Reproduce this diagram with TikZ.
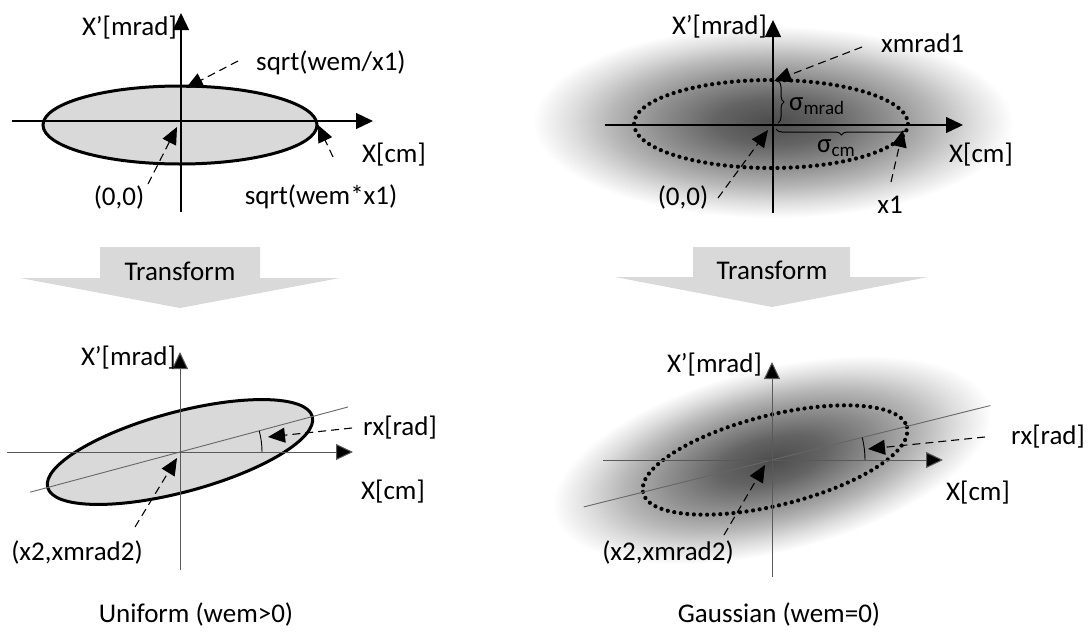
\documentclass[tikz,border=0pt]{standalone}
\usepackage{fontspec}
\setmainfont{Carlito}
\usetikzlibrary{calc,arrows.meta,decorations.pathreplacing}
\pgfdeclareradialshading{gauss}{\pgfpoint{0bp}{0bp}}{color(0bp)=(black!70); color(6bp)=(black!61); color(12bp)=(black!44); color(17bp)=(black!28); color(21bp)=(black!13); color(25bp)=(white); color(50bp)=(white)}
\tikzset{
  axis/.style={draw, line width=1.3pt, -{Triangle[length=17pt,width=16pt]}},
  faxis/.style={draw, black!65, line width=1pt, -{Triangle[length=17pt,width=16pt,fill=black]}},
  ptr/.style={draw, line width=1.1pt, dash pattern=on 8pt off 5pt, -{Triangle[length=17pt,width=15pt]}},
  dots/.style={draw, line width=4.2pt, line cap=round, dash pattern=on 0pt off 6.6pt},
  lbl/.style={inner sep=0pt, font=\fontsize{27}{32}\selectfont},
  sig/.style={draw, decorate, decoration={brace, amplitude=6pt}, line width=1pt}
}
\begin{document}
\begin{tikzpicture}[x=1pt, y=-1pt]
        \useasboundingbox (0,0) rectangle (1089,632);
        \coordinate(O1)at(181,121);
        \coordinate(O2)at(773,125);
        \coordinate(O3)at(180,452);
        \coordinate(O4)at(772,460);
        % gaussian clouds
        \shade[shading=gauss](773,122)ellipse[x radius=240, y radius=96];
        \begin{scope}[transform canvas={rotate around={14:(O4)}}]
          \shade[shading=gauss](O4)ellipse[x radius=225, y radius=92];
        \end{scope}
        % transform arrows
        \path[fill=black!15](100,247)--(260,247)--(260,278)--(340,278)--(180,308)--(20,278)--(100,278)--cycle;
        \path[fill=black!15](693,247)--(850,247)--(850,277)--(928,277)--(772,307)--(615,277)--(693,277)--cycle;
        \node[lbl](trL)at(180,271){Transform};
        \node[lbl](trR)at(772,270){Transform};
        % uniform
        \path[draw, fill=black!15, line width=3pt](180,125)ellipse[x radius=137, y radius=39];
        \coordinate(Y1)at(181,212);
        \coordinate(Y1t)at(181,13);
        \coordinate(X1)at(12,121);
        \coordinate(X1t)at(373,121);
        \path[axis](Y1)to(Y1t);
        \path[axis](X1)to(X1t);
        \node[lbl, anchor=east](xp1)at(177,28){X’[mrad]};
        \node[lbl, anchor=west](top1)at(256,63){sqrt(wem/x1)};
        \node[lbl, anchor=west](xc1)at(362,155){X[cm]};
        \node[lbl](zero1)at(119,197){(0,0)};
        \node[lbl](side1)at(321,197){sqrt(wem*x1)};
        \coordinate(a1)at(238,61);
        \coordinate(b1)at(186,88);
        \coordinate(a2)at(148,184);
        \coordinate(b2)at(177,127);
        \coordinate(a3)at(333,157);
        \coordinate(b3)at(318,125);
        \path[ptr](a1)to(b1);
        \path[ptr](a2)to(b2);
        \path[ptr](a3)to(b3);
        % gaussian
        \path[dots](771,124)ellipse[x radius=137, y radius=44];
        \coordinate(Y2)at(773,213);
        \coordinate(Y2t)at(773,20);
        \coordinate(X2)at(605,125);
        \coordinate(X2t)at(963,125);
        \path[axis](Y2)to(Y2t);
        \path[axis](X2)to(X2t);
        \path[sig](778,81)to(778,123);
        \path[sig](907,129)to(776,129);
        \node[lbl, anchor=west](sm)at(789,106){σ\raisebox{-0.3ex}{\fontsize{19}{19}\selectfont mrad}};
        \node[lbl](sc)at(836,148){σ\raisebox{-0.3ex}{\fontsize{19}{19}\selectfont cm}};
        \node[lbl, anchor=east](xp2)at(767,27){X’[mrad]};
        \node[lbl, anchor=west](top2)at(881,43){xmrad1};
        \node[lbl, anchor=west](xc2)at(949,155){X[cm]};
        \node[lbl](zero2)at(683,197){(0,0)};
        \node[lbl](side2)at(890,205){x1};
        \coordinate(a4)at(862,47);
        \coordinate(b4)at(774,81);
        \coordinate(a5)at(718,198);
        \coordinate(b5)at(768,130);
        \coordinate(a6)at(891,182);
        \coordinate(b6)at(903,130);
        \path[ptr](a4)to(b4);
        \path[ptr](a5)to(b5);
        \path[ptr](a6)to(b6);
        % uniform, transformed
        \begin{scope}[shift={(O3)}, rotate=15]
          \path[draw, fill=black!15, line width=3pt](0,0)ellipse[x radius=137, y radius=40];
        \end{scope}
        \path[draw, black!60, line width=0.9pt]($(O3)+(165:155)$)to($(O3)+(-15:174)$);
        \path[draw, line width=0.9pt]($(O3)+(82,0)$)arc[start angle=0, end angle=-15, radius=82];
        \coordinate(Y3)at(180,570);
        \coordinate(Y3t)at(180,352);
        \coordinate(X3)at(7,452);
        \coordinate(X3t)at(353,452);
        \path[faxis](Y3)to(Y3t);
        \path[faxis](X3)to(X3t);
        \node[lbl, anchor=east](xp3)at(176,358){X’[mrad]};
        \node[lbl, anchor=west](rx3)at(363,428){rx[rad]};
        \node[lbl, anchor=west](xc3)at(361,492){X[cm]};
        \node[lbl](ctr3)at(77,552){(x2,xmrad2)};
        \node[lbl](capL)at(196,614){Uniform (wem>0)};
        \coordinate(a7)at(352,428);
        \coordinate(b7)at(268,437);
        \coordinate(a8)at(135,527);
        \coordinate(b8)at(177,458);
        \path[ptr](a7)to(b7);
        \path[ptr](a8)to(b8);
        % gaussian, transformed
        \begin{scope}[shift={(775,460)}, rotate=14]
          \path[dots](0,0)ellipse[x radius=136, y radius=45];
        \end{scope}
        \path[draw, black!60, line width=0.9pt]($(O4)+(166:194)$)to($(O4)+(-14:225)$);
        \path[draw, line width=0.9pt]($(O4)+(93,0)$)arc[start angle=0, end angle=-14, radius=93];
        \coordinate(Y4)at(772,577);
        \coordinate(Y4t)at(772,362);
        \coordinate(X4)at(603,460);
        \coordinate(X4t)at(943,460);
        \path[faxis](Y4)to(Y4t);
        \path[faxis](X4)to(X4t);
        \node[lbl, anchor=east](xp4)at(762,365){X’[mrad]};
        \node[lbl, anchor=west](rx4)at(1011,437){rx[rad]};
        \node[lbl, anchor=west](xc4)at(946,493){X[cm]};
        \node[lbl](ctr4)at(668,552){(x2,xmrad2)};
        \node[lbl](capR)at(779,614){Gaussian (wem=0)};
        \coordinate(a9)at(985,437);
        \coordinate(b9)at(868,449);
        \coordinate(a10)at(724,535);
        \coordinate(b10)at(765,465);
        \path[ptr](a9)to(b9);
        \path[ptr](a10)to(b10);
\end{tikzpicture}
\end{document}
